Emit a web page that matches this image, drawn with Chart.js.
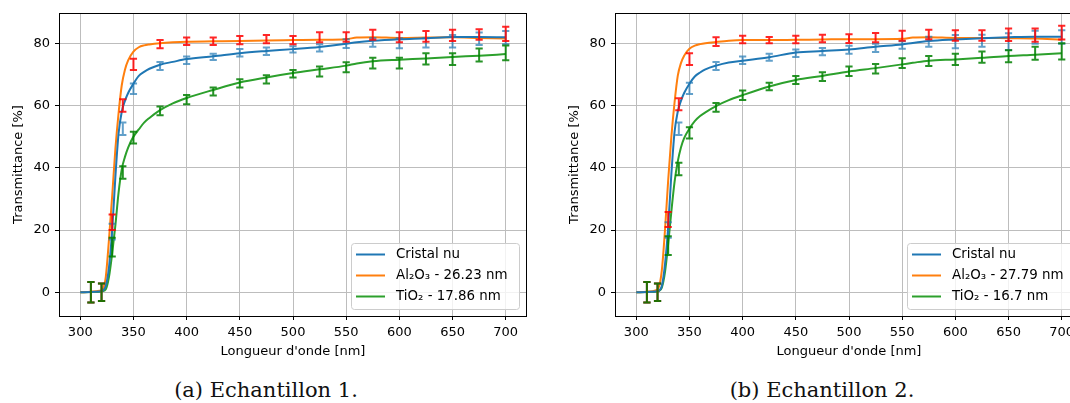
<!DOCTYPE html>
<html>
<head>
<meta charset="utf-8">
<script src="https://cdn.jsdelivr.net/npm/chart.js@4.4.1/dist/chart.umd.min.js"></script>
<style>
  html, body { margin: 0; padding: 0; background: #fff; }
  body { position: relative; width: 1070px; height: 403px; overflow: hidden; }
  canvas { position: absolute; top: 0; }
  #chartA { left: 0; }
  #chartB { left: 556px; }
  .caption { position: absolute; top: 380px; width: 300px; text-align: center;
             font-family: 'DejaVu Serif', serif; font-size: 21px; line-height: 21px; color: #111; }
</style>
</head>
<body>
<canvas id="chartA" width="540" height="370"></canvas>
<canvas id="chartB" width="540" height="370"></canvas>
<div class="caption" style="left:116px">(a) Echantillon 1.</div>
<div class="caption" style="left:672px">(b) Echantillon 2.</div>
<script>
// wavelengths where the measured curves were read [nm]
const curveX = [300, 310, 318, 321, 324, 327, 330, 333, 336, 339, 342, 345, 350, 355, 360, 365, 375, 387,
                400, 425, 450, 475, 500, 525, 550, 560, 575, 600, 625, 650, 675, 700];

// Echantillon 1 - transmittance [%]
const cristal1 = [0, 0.1, 0.3, 0.5, 2, 8, 20, 37, 51, 58, 61.5, 64, 67, 69.5, 70.8, 71.8, 73.1, 74,
                  74.9, 75.8, 76.8, 77.5, 78.1, 78.8, 79.8, 80.3, 80.8, 81.3, 81.6, 82, 82, 81.9];
const alumine1 = [0, 0.2, 0.5, 1, 5, 17, 31, 46, 57.5, 66.5, 71.5, 74.5, 77.3, 78.7, 79.3, 79.6, 80, 80.3,
                  80.5, 80.6, 80.7, 80.9, 81, 81.1, 81.3, 81.8, 81.9, 81.7, 81.8, 81.9, 81.7, 81.5];
const titane1  = [0, 0.1, 0.2, 0.4, 1, 5, 12.5, 21.5, 32, 39.5, 43.5, 46.5, 50, 52.3, 54.5, 56, 58.5, 60.7,
                  62.4, 65, 67.4, 69, 70.4, 71.6, 72.8, 73.5, 74.2, 74.7, 75.1, 75.6, 76, 76.5];

// Echantillon 2 - transmittance [%]
const cristal2 = [0, 0.1, 0.3, 0.5, 2, 9, 21, 38, 51.5, 58, 61.5, 64, 67, 69.3, 70.6, 71.6, 72.8, 73.8,
                  74.4, 75.5, 77, 77.5, 78, 78.9, 79.6, 80.1, 80.7, 81.2, 81.6, 81.9, 82.1, 82.1];
const alumine2 = [0, 0.2, 0.6, 1.5, 7, 20, 36, 50, 61, 69.5, 73.6, 76, 78.2, 79.2, 79.7, 80, 80.4, 80.8,
                  81, 81, 81.1, 81.2, 81.3, 81.3, 81.4, 81.8, 81.9, 81.7, 81.7, 81.6, 81.5, 81.1];
const titane2  = [0, 0.1, 0.2, 0.4, 1.5, 6.5, 15.5, 26, 35.5, 42, 46.5, 49.5, 52.6, 55, 56.6, 57.8, 59.8, 61.7,
                  63.3, 66.1, 68.2, 69.5, 70.9, 72, 73.2, 73.7, 74.4, 74.8, 75.3, 75.9, 76.3, 76.8];

// error bar positions [nm]
const errX = [310, 320, 330, 340, 350, 375, 400, 425, 450, 475, 500, 525, 550, 575, 600, 625, 650, 675, 700];

const cristalMean1 = [0, 0, 19.5, 52.5, 65.4, 72.7, 74.5, 75.6, 76.9, 77.4, 78, 78.5, 79.9, 80.3, 80, 80.1, 80.6, 81.4, 81.8];
const cristalErr1  = [3.3, 2.8, 2.5, 2, 1.7, 1.3, 1.2, 1, 1.2, 1.2, 1, 1.2, 1.4, 1.4, 1.6, 1.5, 2, 2, 2.1];
const alumineMean1 = [0, 0, 22.5, 60, 73.2, 79.7, 80.6, 80.6, 81, 81.3, 81, 81.9, 82, 82.7, 81.9, 82.2, 82.5, 82.8, 83];
const alumineErr1  = [3.3, 2.8, 2.5, 2, 1.8, 1.3, 1.2, 1.2, 1.3, 1.3, 1.3, 1.6, 1.5, 1.6, 1.6, 1.7, 1.8, 1.7, 2.3];
const titaneMean1  = [0, 0, 14.5, 38.5, 49.7, 58.3, 61.9, 64.5, 67.1, 68.4, 70.2, 70.9, 72.3, 73.6, 73.6, 75, 74.9, 76.2, 76.9];
const titaneErr1   = [3.3, 2.8, 3, 2, 1.9, 1.4, 1.5, 1.3, 1.3, 1.3, 1.2, 1.6, 1.6, 1.7, 1.7, 1.8, 1.9, 2.1, 2.4];

const cristalMean2 = [0, 0, 20, 52.5, 65.5, 72.7, 74.5, 75.5, 76.8, 77.3, 77.9, 78.5, 79.4, 80.5, 80.5, 80.8, 80.5, 81.9, 82];
const cristalErr2  = [3.3, 2.8, 2.5, 2, 1.8, 1.3, 1.2, 1.1, 1.2, 1.2, 1.3, 1.3, 1.2, 1.6, 2.1, 1.9, 2.7, 2.1, 2.2];
const alumineMean2 = [0, 0, 23.4, 60.4, 74.9, 80.5, 81.2, 81, 81.2, 81.5, 81.5, 81.8, 82.4, 82.8, 82.5, 82.5, 82.7, 82.6, 83.4];
const alumineErr2  = [3.3, 2.8, 2.4, 1.9, 1.9, 1.4, 1.2, 1, 1.2, 1.2, 1.4, 1.5, 1.6, 1.5, 1.7, 1.7, 2, 2.1, 2.2];
const titaneMean2  = [0, 0, 15, 39.6, 51.2, 59.4, 63.3, 66.1, 68.2, 69.3, 71, 71.8, 73.6, 74.3, 74.8, 75.5, 75.8, 76.8, 77.4];
const titaneErr2   = [3.3, 2.8, 3, 2, 1.8, 1.4, 1.5, 1.2, 1.3, 1.4, 1.5, 1.5, 1.6, 1.6, 1.8, 1.8, 1.9, 2.1, 2.6];

const labels1 = ['Cristal nu', 'Al₂O₃ - 26.23 nm', 'TiO₂ - 17.86 nm'];
const labels2 = ['Cristal nu', 'Al₂O₃ - 27.79 nm', 'TiO₂ - 16.7 nm'];

const xMin = 280, xMax = 720, xStep = 50;
const yMin = -7.6, yMax = 89.7, yStep = 20;

const lineColors = ['#1f77b4', '#ff7f0e', '#2ca02c'];
const barColors = ['rgba(31,119,180,0.7)', 'rgba(255,0,0,0.85)', 'rgba(0,128,0,0.85)'];
const FONT = 'DejaVu Sans';

function toPoints(xs, ys) {
    return xs.map((x, i) => ({ x: x, y: ys[i] }));
}

// error bars drawn through the chart scales
const errorBarPlugin = {
    id: 'errorBars',
    afterDatasetsDraw(chart) {
        const ctx = chart.ctx;
        const xs = chart.scales.x, ys = chart.scales.y;
        ctx.save();
        chart.data.datasets.forEach(ds => {
            const eb = ds.errorBars;
            if (!eb) return;
            ctx.strokeStyle = eb.color;
            ctx.lineWidth = 2;
            eb.x.forEach((x, i) => {
                const px = xs.getPixelForValue(x);
                const top = ys.getPixelForValue(eb.mean[i] + eb.err[i]);
                const bot = ys.getPixelForValue(eb.mean[i] - eb.err[i]);
                ctx.beginPath();
                ctx.moveTo(px, top); ctx.lineTo(px, bot);
                ctx.moveTo(px - 3.6, top); ctx.lineTo(px + 3.6, top);
                ctx.moveTo(px - 3.6, bot); ctx.lineTo(px + 3.6, bot);
                ctx.stroke();
            });
        });
        ctx.restore();
    }
};

// box around the plot area + legend in the lower right corner
const framePlugin = {
    id: 'frame',
    afterDraw(chart) {
        const ctx = chart.ctx;
        const a = chart.chartArea;
        ctx.save();
        ctx.strokeStyle = '#000';
        ctx.lineWidth = 1;
        ctx.strokeRect(Math.round(a.left) + 0.5, Math.round(a.top) + 0.5,
                       Math.round(a.right - a.left) - 1, Math.round(a.bottom - a.top));

        const w = 168, h = 66;
        const bx = a.right - 8 - w, by = a.bottom - 7 - h;
        ctx.beginPath();
        ctx.roundRect(bx + 0.5, by + 0.5, w, h, 3);
        ctx.fillStyle = 'rgba(255,255,255,0.8)';
        ctx.fill();
        ctx.strokeStyle = '#cccccc';
        ctx.stroke();

        ctx.font = '13.4px "' + FONT + '"';
        ctx.textBaseline = 'middle';
        ctx.textAlign = 'left';
        chart.data.datasets.forEach((ds, i) => {
            const ry = by + 11.5 + i * 21;
            ctx.strokeStyle = ds.borderColor;
            ctx.lineWidth = 2;
            ctx.beginPath();
            ctx.moveTo(bx + 5, ry); ctx.lineTo(bx + 34, ry);
            ctx.stroke();
            ctx.fillStyle = '#000';
            ctx.fillText(ds.label, bx + 45, ry);
        });
        ctx.restore();
    }
};

function makeChart(id, labels, curves, bars) {
    const datasets = curves.map((ys, i) => ({
        label: labels[i],
        data: toPoints(curveX, ys),
        borderColor: lineColors[i],
        borderWidth: 2,
        pointRadius: 0,
        fill: false,
        cubicInterpolationMode: 'monotone',
        errorBars: { x: errX, mean: bars[i][0], err: bars[i][1], color: barColors[i] }
    }));

    return new Chart(document.getElementById(id).getContext('2d'), {
        type: 'line',
        data: { datasets: datasets },
        plugins: [errorBarPlugin, framePlugin],
        options: {
            responsive: false,
            animation: false,
            devicePixelRatio: 1,
            events: [],
            layout: { padding: { top: 13, right: 13, left: 0, bottom: 0 } },
            plugins: { legend: { display: false }, tooltip: { enabled: false } },
            scales: {
                x: {
                    type: 'linear',
                    min: xMin, max: xMax,
                    border: { display: false },
                    grid: { color: '#bdbdbd', lineWidth: 1, tickColor: '#000', tickLength: 4, tickWidth: 1 },
                    ticks: { stepSize: xStep, includeBounds: false, maxRotation: 0, autoSkip: false,
                             padding: 5, color: '#000', font: { family: FONT, size: 13 } },
                    title: { display: true, text: "Longueur d'onde [nm]", color: '#000',
                             font: { family: FONT, size: 13 }, padding: { top: 0, bottom: 10.5 } },
                    afterFit: s => { s.height = 54; }
                },
                y: {
                    min: yMin, max: yMax,
                    border: { display: false },
                    grid: { color: '#bdbdbd', lineWidth: 1, tickColor: '#000', tickLength: 4, tickWidth: 1 },
                    ticks: { stepSize: yStep, includeBounds: false, padding: 5, color: '#000',
                             font: { family: FONT, size: 13 } },
                    title: { display: true, text: 'Transmittance [%]', color: '#000',
                             font: { family: FONT, size: 13 }, padding: { top: 11, bottom: 0 } },
                    afterFit: s => { s.width = 59; }
                }
            }
        }
    });
}

makeChart('chartA', labels1, [cristal1, alumine1, titane1],
          [[cristalMean1, cristalErr1], [alumineMean1, alumineErr1], [titaneMean1, titaneErr1]]);
makeChart('chartB', labels2, [cristal2, alumine2, titane2],
          [[cristalMean2, cristalErr2], [alumineMean2, alumineErr2], [titaneMean2, titaneErr2]]);
</script>
</body>
</html>
